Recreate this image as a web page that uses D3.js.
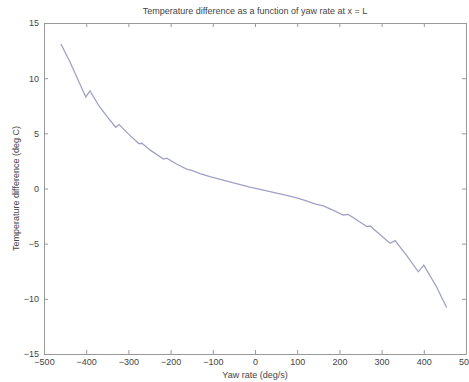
<!DOCTYPE html>
<html>
<head>
<meta charset="utf-8">
<script src="https://cdn.jsdelivr.net/npm/d3@7"></script>
<style>
  body { margin: 0; background: #fff; }
  text { font-family: "Liberation Sans", Arial, sans-serif; fill: #444; }
</style>
</head>
<body>
<div id="chart"></div>
<script>
// yaw rate (deg/s) and temperature difference (deg C)
const yawRate = [-460, -440, -420, -401, -391, -370, -350, -330, -322, -300, -275, -268, -249, -217, -209,
  -185, -162, -150, -130, -107, -80, -51, -12, 20, 51, 75, 99, 120, 142, 154, 162, 178, 209, 221,
  245, 265, 273, 300, 320, 332, 360, 387, 400, 430, 454];
const tempDiff = [13.1, 11.6, 9.9, 8.3, 8.85, 7.5, 6.5, 5.55, 5.8, 4.95, 4.05, 4.1, 3.5, 2.67, 2.75,
  2.2, 1.75, 1.65, 1.35, 1.07, 0.8, 0.52, 0.12, -0.15, -0.42, -0.62, -0.85, -1.1, -1.4, -1.5, -1.58, -1.85, -2.4, -2.35,
  -2.95, -3.45, -3.4, -4.3, -4.97, -4.73, -6.1, -7.55, -6.94, -8.9, -10.78];

const xTicks = [-500, -400, -300, -200, -100, 0, 100, 200, 300, 400, 500];
const yTicks = [-15, -10, -5, 0, 5, 10, 15];

const width = 469;
const height = 382;
const margin = { top: 23, right: 3, bottom: 28, left: 44 };

const x = d3.scaleLinear()
  .domain([-500, 500])
  .range([margin.left, width - margin.right]);

const y = d3.scaleLinear()
  .domain([-15, 15])
  .range([height - margin.bottom, margin.top]);

const svg = d3.select('#chart').append('svg')
  .attr('width', width)
  .attr('height', height);

// bottom / left axes with inward ticks
const xAxis = svg.append('g')
  .attr('transform', `translate(0, ${y(-15)})`)
  .call(d3.axisBottom(x).tickValues(xTicks).tickSizeInner(-4).tickSizeOuter(0).tickPadding(5));

const yAxis = svg.append('g')
  .attr('transform', `translate(${x(-500)}, 0)`)
  .call(d3.axisLeft(y).tickValues(yTicks).tickSizeInner(-4).tickSizeOuter(0).tickPadding(5));

// top / right mirror ticks, no labels
const xTop = svg.append('g')
  .attr('transform', `translate(0, ${y(15)})`)
  .call(d3.axisTop(x).tickValues(xTicks).tickSizeInner(-4).tickSizeOuter(0).tickFormat(''));

const yRight = svg.append('g')
  .attr('transform', `translate(${x(500)}, 0)`)
  .call(d3.axisRight(y).tickValues(yTicks).tickSizeInner(-4).tickSizeOuter(0).tickFormat(''));

[xAxis, yAxis, xTop, yRight].forEach(function (g) {
  g.selectAll('path, line').attr('stroke', '#999');
  g.selectAll('text')
    .style('font-family', '"Liberation Sans", Arial, sans-serif')
    .style('font-size', '9px')
    .attr('fill', '#444');
});

// the curve
const points = yawRate.map((v, i) => [v, tempDiff[i]]);
svg.append('path')
  .datum(points)
  .attr('fill', 'none')
  .attr('stroke', '#a0a1c8')
  .attr('stroke-width', 1.3)
  .attr('d', d3.line().x(d => x(d[0])).y(d => y(d[1])));

svg.append('text')
  .attr('x', (x(-500) + x(500)) / 2)
  .attr('y', 14)
  .attr('text-anchor', 'middle')
  .style('font-size', '9px')
  .text('Temperature difference as a function of yaw rate at x = L');

svg.append('text')
  .attr('x', (x(-500) + x(500)) / 2)
  .attr('y', 378)
  .attr('text-anchor', 'middle')
  .style('font-size', '9px')
  .text('Yaw rate (deg/s)');

svg.append('text')
  .attr('transform', `translate(19, ${(y(-15) + y(15)) / 2}) rotate(-90)`)
  .attr('text-anchor', 'middle')
  .style('font-size', '9px')
  .text('Temperature difference (deg C)');
</script>
</body>
</html>
